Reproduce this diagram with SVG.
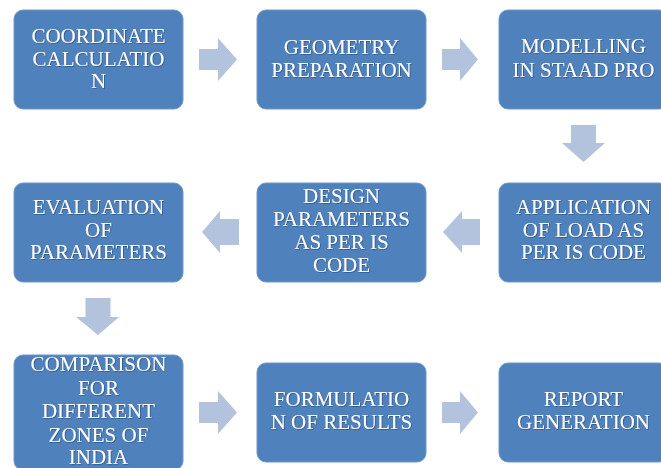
<svg xmlns="http://www.w3.org/2000/svg" width="661" height="468" viewBox="0 0 661 468">
  <defs>
    <filter id="ts" x="-5%" y="-20%" width="110%" height="140%">
      <feDropShadow dx="0.8" dy="0.8" stdDeviation="0.4" flood-color="#24476f" flood-opacity="0.7"/>
    </filter>
  </defs>
  <style>
    .box { fill: #4F81BD; stroke: #6f97c9; stroke-width: 1; }
    .lbl { font-size: 21px; fill: #ffffff; text-anchor: middle; }
    .arr { fill: #B3C2DD; stroke: none; }
  </style>
  <rect width="661" height="468" fill="#ffffff"/>

  <g id="connectors">
    <polygon class="arr" points="199,49 218,49 218,38 237,59.5 218,81 218,70 199,70"/>
    <polygon class="arr" points="442,49 460,49 460,38 478,59.5 460,81 460,70 442,70"/>
    <polygon class="arr" points="571,125 596,125 596,143 605,143 583.5,162 562,143 571,143"/>
    <polygon class="arr" points="480,219 462,219 462,211 443,232 462,253 462,245 480,245"/>
    <polygon class="arr" points="239,219 220,219 220,211 202,232 220,253 220,245 239,245"/>
    <polygon class="arr" points="85.5,298 110.5,298 110.5,317 119,317 98,335 76,317 85.5,317"/>
    <polygon class="arr" points="199,402 218,402 218,391 237,412.5 218,434 218,423 199,423"/>
    <polygon class="arr" points="442,402 460,402 460,391 478,412.5 460,434 460,423 442,423"/>
  </g>

  <g font-family="Liberation Serif, Times New Roman, serif">
  <g id="n1">
    <rect class="box" x="14" y="10" width="169" height="99" rx="9"/>
    <g filter="url(#ts)">
    <text class="lbl" x="98.5" y="43">COORDINATE</text>
    <text class="lbl" x="98.5" y="66">CALCULATIO</text>
    <text class="lbl" x="98.5" y="88">N</text>
    </g>
  </g>
  <g id="n2">
    <rect class="box" x="257" y="10" width="169" height="99" rx="9"/>
    <g filter="url(#ts)">
    <text class="lbl" x="341.5" y="54">GEOMETRY</text>
    <text class="lbl" x="341.5" y="77">PREPARATION</text>
    </g>
  </g>
  <g id="n3">
    <rect class="box" x="499" y="10" width="169" height="99" rx="9"/>
    <g filter="url(#ts)">
    <text class="lbl" x="583.5" y="53">MODELLING</text>
    <text class="lbl" x="583.5" y="77">IN STAAD PRO</text>
    </g>
  </g>
  <g id="n4">
    <rect class="box" x="499" y="183" width="169" height="99" rx="9"/>
    <g filter="url(#ts)">
    <text class="lbl" x="583.5" y="214">APPLICATION</text>
    <text class="lbl" x="583.5" y="237">OF LOAD AS</text>
    <text class="lbl" x="583.5" y="259">PER IS CODE</text>
    </g>
  </g>
  <g id="n5">
    <rect class="box" x="257" y="183" width="169" height="99" rx="9"/>
    <g filter="url(#ts)">
    <text class="lbl" x="341.5" y="203">DESIGN</text>
    <text class="lbl" x="341.5" y="226">PARAMETERS</text>
    <text class="lbl" x="341.5" y="249">AS PER IS</text>
    <text class="lbl" x="341.5" y="272">CODE</text>
    </g>
  </g>
  <g id="n6">
    <rect class="box" x="14" y="183" width="169" height="99" rx="9"/>
    <g filter="url(#ts)">
    <text class="lbl" x="98.5" y="214">EVALUATION</text>
    <text class="lbl" x="98.5" y="237">OF</text>
    <text class="lbl" x="98.5" y="259">PARAMETERS</text>
    </g>
  </g>
  <g id="n7">
    <rect class="box" x="14" y="355" width="169" height="115" rx="9"/>
    <g filter="url(#ts)">
    <text class="lbl" x="98.5" y="371">COMPARISON</text>
    <text class="lbl" x="98.5" y="395">FOR</text>
    <text class="lbl" x="98.5" y="418">DIFFERENT</text>
    <text class="lbl" x="98.5" y="442">ZONES OF</text>
    <text class="lbl" x="98.5" y="464">INDIA</text>
    </g>
  </g>
  <g id="n8">
    <rect class="box" x="257" y="363" width="169" height="99" rx="9"/>
    <g filter="url(#ts)">
    <text class="lbl" x="341.5" y="406">FORMULATIO</text>
    <text class="lbl" x="341.5" y="429">N OF RESULTS</text>
    </g>
  </g>
  <g id="n9">
    <rect class="box" x="499" y="363" width="169" height="99" rx="9"/>
    <g filter="url(#ts)">
    <text class="lbl" x="583.5" y="406">REPORT</text>
    <text class="lbl" x="583.5" y="429">GENERATION</text>
    </g>
  </g>
  </g>
</svg>
